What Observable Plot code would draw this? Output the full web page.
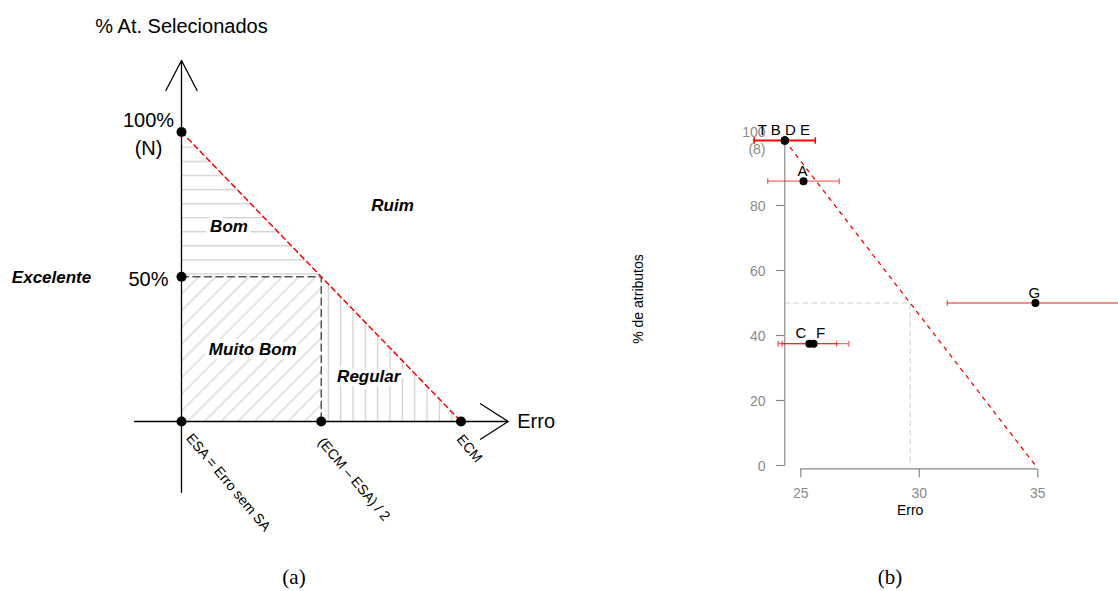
<!DOCTYPE html>
<html>
<head>
<meta charset="utf-8">
<script src="https://cdn.jsdelivr.net/npm/d3@7"></script>
<script src="https://cdn.jsdelivr.net/npm/@observablehq/plot@0.6"></script>
<style>
  html, body { margin: 0; padding: 0; background: #fff; }
  #fig { position: relative; width: 1118px; height: 591px; overflow: hidden; background: #fff;
         font-family: "Liberation Sans", Arial, sans-serif; }
  #fig svg { position: absolute; top: 0; }
  .cap { position: absolute; font-family: "Liberation Serif", "Times New Roman", serif; font-size: 21px;
         line-height: 1; transform: translate(-50%, -50%); white-space: nowrap; }
</style>
</head>
<body>
<div id="fig"></div>
<script>
// ---------- Panel (a): quality regions of a feature selection ----------
// Horizontal axis positions: ESA, (ECM – ESA)/2, ECM
const erroMarks = [0, 1, 2];
const erroLabels = ["ESA = Erro sem SA", "(ECM – ESA) / 2", "ECM"];
// Vertical axis: % of selected attributes
const pctMarks = [0, 50, 100];
const pctLabels = ["", "50%", "100%\n(N)"];
// Region names and where they are written (diagram units)
const regionNames = ["Ruim", "Bom", "Muito Bom", "Regular", "Excelente"];
const regionErro = [1.51, 0.34, 0.51, 1.34, -0.93];
const regionPct = [74.6, 67.4, 24.8, 15.5, 49.8];
// Extent of the two drawn axes (diagram units)
const axisErroExtent = [-0.336, 2.338];
const axisPctExtent = [-24.5, 124.7];

// ---------- Panel (b): selected configurations ----------
const attrNames = ["T", "B", "D", "E", "A", "C", "F", "G"];
const attrErro = [24.325, 24.325, 24.325, 24.325, 25.115, 25.36, 25.54, 34.9];
const attrPct = [100, 100, 100, 100, 87.5, 37.5, 37.5, 50];
const attrDesvio = [1.29, 1.29, 1.29, 1.29, 1.51, 1.15, 1.49, 3.72];
const ecmB = 34.9;
const xTicksB = [25, 30, 35];
const yTicksB = [0, 20, 40, 60, 80, 100];
const yTickLabelsB = ["0", "20", "40", "60", "80", "100\n(8)"];

const fig = document.getElementById("fig");
const ns = "http://www.w3.org/2000/svg";
function addDefs(svg, markup) {
  const defs = document.createElementNS(ns, "defs");
  defs.innerHTML = markup;
  svg.insertBefore(defs, svg.firstChild);
}

// ----- panel (a) geometry built from the axis positions
const [xESA, xMeio, xECM] = erroMarks;
const [p0, p50, p100] = pctMarks;
const diagA = [{x: xESA, y: p100}, {x: xECM, y: p0}];
const guideA = [{x: xESA, y: p50}, {x: xMeio, y: p50}, {x: xMeio, y: p0}];
const bomArea = [{x: xESA, lo: p50, hi: p100}, {x: xMeio, lo: p50, hi: p50}];
const regularArea = [{x: xMeio, lo: p0, hi: p50}, {x: xECM, lo: p0, hi: p0}];
const muitoBom = [{x1: xESA, x2: xMeio, y1: p0, y2: p50}];
const dotsA = [...erroMarks.map(x => ({x, y: p0})), {x: xESA, y: p50}, {x: xESA, y: p100}];
const regions = regionNames.map((name, i) => ({name, x: regionErro[i], y: regionPct[i]}));
const pctLab = pctMarks.map((y, i) => ({y, text: pctLabels[i]})).filter(d => d.text);

const regionStyle = {x: "x", y: "y", text: "name", fontSize: 17, fontWeight: "bold", fontStyle: "italic"};
const rotStyle = {rotate: 50, textAnchor: "start", lineAnchor: "bottom", fontSize: 14, fill: "black"};

const svgA = Plot.plot({
  width: 560, height: 591, margin: 0,
  x: {domain: [0, 2], range: [181, 460.5], axis: null},
  y: {domain: [0, 100], range: [421, 131.5], axis: null},
  style: {background: "transparent", fontFamily: "'Liberation Sans', Arial, sans-serif", fontSize: "14px", color: "black"},
  marks: [
    Plot.areaY(bomArea, {x: "x", y1: "lo", y2: "hi", fill: "url(#hatch-h)"}),
    Plot.rect(muitoBom, {x1: "x1", x2: "x2", y1: "y1", y2: "y2", fill: "url(#hatch-d)"}),
    Plot.areaY(regularArea, {x: "x", y1: "lo", y2: "hi", fill: "url(#hatch-v)"}),
    Plot.text(regions, {...regionStyle, fill: "white", stroke: "white", strokeWidth: 8}),
    Plot.line(guideA, {x: "x", y: "y", stroke: "#555", strokeWidth: 1.5, strokeDasharray: "7,4.5"}),
    Plot.text(regions, {...regionStyle, fill: "black"}),
    Plot.arrow([{x1: xESA, y1: axisPctExtent[0], x2: xESA, y2: axisPctExtent[1]}],
      {x1: "x1", y1: "y1", x2: "x2", y2: "y2", stroke: "black", strokeWidth: 1.3, headAngle: 55, headLength: 39}),
    Plot.arrow([{x1: axisErroExtent[0], y1: p0, x2: axisErroExtent[1], y2: p0}],
      {x1: "x1", y1: "y1", x2: "x2", y2: "y2", stroke: "black", strokeWidth: 1.3, headAngle: 65, headLength: 38}),
    Plot.line(diagA, {x: "x", y: "y", stroke: "#ff0000", strokeWidth: 1.5, strokeDasharray: "5,4"}),
    Plot.dot(dotsA, {x: "x", y: "y", r: 5, fill: "black"}),
    Plot.text(pctLab, {x: () => xESA, y: "y", text: "text", dx: -33, textAnchor: "middle", lineHeight: 1.42, fontSize: 20, fill: "black"}),
    Plot.text([erroLabels[0]], {x: () => erroMarks[0], y: () => p0, text: d => d, dx: 4, dy: 17, ...rotStyle}),
    Plot.text([erroLabels[1]], {x: () => erroMarks[1], y: () => p0, text: d => d, dx: -4, dy: 21, ...rotStyle}),
    Plot.text([erroLabels[2]], {x: () => erroMarks[2], y: () => p0, text: d => d, dx: -5, dy: 18, ...rotStyle}),
    Plot.text(["% At. Selecionados"], {x: () => xESA, y: () => axisPctExtent[1], text: d => d, dy: -34, fontSize: 20, fill: "black"}),
    Plot.text(["Erro"], {x: () => axisErroExtent[1], y: () => p0, text: d => d, dx: 9, textAnchor: "start", fontSize: 20, fill: "black"})
  ]
});
addDefs(svgA, `
  <pattern id="hatch-h" patternUnits="userSpaceOnUse" x="0" y="146.6" width="10" height="14.08">
    <line x1="0" x2="10" y1="0.7" y2="0.7" stroke="#cdcdcd" stroke-width="1.2"/>
  </pattern>
  <pattern id="hatch-v" patternUnits="userSpaceOnUse" x="322.1" y="0" width="12.34" height="10">
    <line x1="6.2" x2="6.2" y1="0" y2="10" stroke="#cdcdcd" stroke-width="1.2"/>
  </pattern>
  <pattern id="hatch-d" patternUnits="userSpaceOnUse" width="11.8" height="11.8" patternTransform="rotate(45)">
    <line x1="5.9" x2="5.9" y1="0" y2="11.8" stroke="#cdcdcd" stroke-width="1.1"/>
  </pattern>`);
svgA.style.left = "0px";
fig.appendChild(svgA);

// ----- panel (b)
const pontos = attrNames.map((nome, i) => ({nome, erro: attrErro[i], pct: attrPct[i], dp: attrDesvio[i]}));
const esaB = d3.min(attrErro);
const meioB = (esaB + ecmB) / 2;
const rotulos = d3.groups(pontos, d => `${d.erro}|${d.pct}`)
  .map(([, v]) => ({text: v.map(d => d.nome).join(" "), erro: v[0].erro, pct: v[0].pct}));
const vTick = {draw(ctx, size) { const r = Math.sqrt(size / Math.PI); ctx.moveTo(0, -r); ctx.lineTo(0, r); }};
const hTick = {draw(ctx, size) { const r = Math.sqrt(size / Math.PI); ctx.moveTo(-r, 0); ctx.lineTo(r, 0); }};
const grey = "#8a8a8a";
const caps = pontos.flatMap(d => [{x: d.erro - d.dp, y: d.pct}, {x: d.erro + d.dp, y: d.pct}]);
const labStyle = {x: "erro", y: "pct", text: "text", dy: -10, fontSize: 15, fill: "black"};

const svgB = Plot.plot({
  width: 518, height: 591, margin: 0,
  x: {domain: [25, 35], range: [200.3, 437.3], axis: null},
  y: {domain: [0, 100], range: [465, 140], axis: null},
  style: {background: "transparent", fontFamily: "'Liberation Sans', Arial, sans-serif", fontSize: "14px", color: "black"},
  marks: [
    Plot.line([{x: esaB, y: 50}, {x: meioB, y: 50}, {x: meioB, y: 0}],
      {x: "x", y: "y", stroke: "#cfcfcf", strokeWidth: 1.1, strokeDasharray: "5,4"}),
    Plot.line([{x: esaB, y: 100}, {x: ecmB, y: 0}],
      {x: "x", y: "y", stroke: "#ff0000", strokeWidth: 1.3, strokeDasharray: "3.5,5.5"}),
    // axes
    Plot.ruleX([esaB], {x: d => d, y1: yTicksB[0], y2: yTicksB[yTicksB.length - 1], stroke: grey, strokeWidth: 1.2}),
    Plot.ruleY([0], {y: d => d, x1: xTicksB[0], x2: xTicksB[xTicksB.length - 1], dy: 3.3, stroke: grey, strokeWidth: 1.2}),
    Plot.dot(xTicksB, {x: d => d, y: () => 0, symbol: vTick, r: 4.2, dy: 7.5, fill: "none", stroke: grey, strokeWidth: 1.2}),
    Plot.text(xTicksB, {x: d => d, y: () => 0, text: d => String(d), dy: 28, fontSize: 14, fill: grey}),
    Plot.dot(yTicksB, {x: () => esaB, y: d => d, symbol: hTick, r: 4.5, dx: -4.5, fill: "none", stroke: grey, strokeWidth: 1.2}),
    Plot.text(yTicksB, {x: () => esaB, y: d => d, text: (d, i) => yTickLabelsB[i], dx: -19.3, textAnchor: "end",
      lineHeight: 1.2, fontSize: 14, fill: grey}),
    Plot.text(["Erro"], {x: () => meioB, y: () => 0, text: d => d, dy: 45, fontSize: 14, fill: "black"}),
    Plot.text(["% de atributos"], {x: () => esaB, y: () => 50, text: d => d, dx: -146.5, dy: -4, rotate: -90, fontSize: 14, fill: "black"}),
    // error bars
    Plot.ruleY(pontos, {y: "pct", x1: d => d.erro - d.dp, x2: d => d.erro + d.dp, stroke: "#ff0000", strokeOpacity: 0.6, strokeWidth: 1.3}),
    Plot.dot(caps, {x: "x", y: "y", symbol: vTick, r: 3, fill: "none", stroke: "#ff0000", strokeOpacity: 0.6, strokeWidth: 1.3}),
    Plot.dot(pontos, {x: "erro", y: "pct", r: 4, fill: "black"}),
    // point labels
    Plot.text(rotulos.filter(d => d.text !== "C" && d.text !== "F"), {...labStyle, dx: -1}),
    Plot.text(rotulos.filter(d => d.text === "C"), {...labStyle, dx: -8.5}),
    Plot.text(rotulos.filter(d => d.text === "F"), {...labStyle, dx: 7})
  ]
});
svgB.style.left = "600px";
fig.appendChild(svgB);

// captions
for (const [t, x, y] of [["(a)", 294, 577], ["(b)", 890, 577]]) {
  const d = document.createElement("div");
  d.className = "cap";
  d.textContent = t;
  d.style.left = x + "px";
  d.style.top = y + "px";
  fig.appendChild(d);
}
</script>
</body>
</html>
